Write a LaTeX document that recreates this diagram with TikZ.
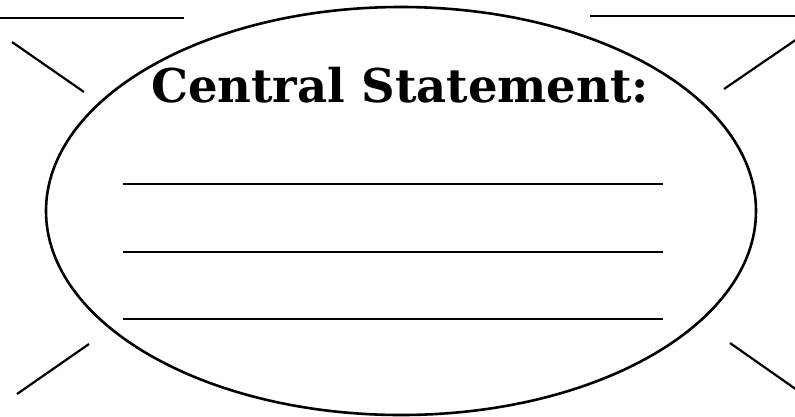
\documentclass[tikz,border=0pt]{standalone}
\usepackage{fontspec}
\newfontfamily\slabfont{DejaVu Serif}
\usetikzlibrary{shapes.geometric}
\begin{document}
\begin{tikzpicture}[x=1pt,y=-1pt,line width=2pt]
        \useasboundingbox (0,0) rectangle (795,416);
        \node[draw,ellipse,line width=2.6pt,minimum width=710,minimum height=408,inner sep=0] (stmt) at (401,211) {};
        \node[anchor=base,font=\slabfont\bfseries\fontsize{46.5}{52}\selectfont] (title) at (400,102) {Central Statement:};
        % blank lines inside
        \foreach \y in {184,252,319}
          \draw[line width=1.8pt] (123,\y)--(663,\y);
        % blanks at the top corners
        \draw[line width=1.8pt] (0,18)--(184,18);
        \draw[line width=1.8pt] (590,16)--(795,16);
        % rays
        \draw[line width=2.2pt] (12,42)--(84,92);
        \draw[line width=2.2pt] (724,89)--(797,39);
        \draw[line width=2.2pt] (89,344)--(17,394);
        \draw[line width=2.2pt] (730,343)--(797,390);
\end{tikzpicture}
\end{document}
